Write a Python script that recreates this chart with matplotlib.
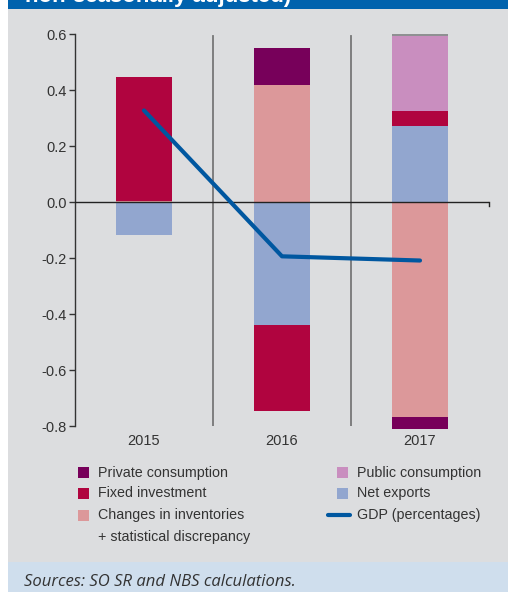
import matplotlib
matplotlib.use("Agg")
import matplotlib.pyplot as plt
from matplotlib.patches import Rectangle
from matplotlib.lines import Line2D
import numpy as np

years = ["2015", "2016", "2017"]
private_consumption = [0.0, 0.132, -0.045]
public_consumption = [0.0, 0.0, 0.268]
fixed_investment = [0.442, -0.310, 0.054]
inventories = [0.005, 0.419, -0.767]
net_exports = [-0.119, -0.438, 0.272]
other = [0.0, 0.0, 0.006]
gdp = [0.327, -0.194, -0.209]

yticks = [-0.8, -0.6, -0.4, -0.2, 0.0, 0.2, 0.4, 0.6]

c_priv = "#77005a"
c_fix = "#b0043f"
c_inv = "#dc989a"
c_pub = "#c98ebf"
c_net = "#92a6cf"
c_oth = "#8f9092"
c_gdp = "#0057a0"
bg = "#dcdddf"

font = "Liberation Sans"
plt.rcParams['font.family'] = [font, 'DejaVu Sans']

W, H = 508, 592
fig = plt.figure(figsize=(W / 100, H / 100), dpi=100)
fig.patch.set_facecolor("white")

def fx(px):
    return px / W

def fy(py):
    return 1 - py / H

# background panel
fig.patches.append(Rectangle((fx(8), 0), 1 - fx(8), 1, transform=fig.transFigure,
                             facecolor=bg, edgecolor="none", zorder=-5))
# top blue band
band = Rectangle((fx(8), fy(9)), 1 - fx(8), 9 / H, transform=fig.transFigure,
                 facecolor="#0062ad", edgecolor="none", zorder=-4)
fig.patches.append(band)
t = fig.text(fx(25), fy(2), "non-seasonally adjusted)", color="white", fontsize=16,
             fontweight="bold", ha="left", va="baseline", zorder=-3)
t.set_clip_path(band)
# bottom sources band
fig.patches.append(Rectangle((fx(8), 0), 1 - fx(8), 30 / H, transform=fig.transFigure,
                             facecolor="#cfdeed", edgecolor="none", zorder=-4))
fig.text(fx(24), fy(586), "Sources: SO SR and NBS calculations.", fontsize=12,
         style="italic", color="#333333", ha="left", va="baseline", family="Open Sans")

ax = fig.add_axes([fx(75), fy(426), fx(489) - fx(75), fy(34) - fy(426)])
ax.set_zorder(5)
ax.set_facecolor("none")
ax.set_xlim(-0.5, 2.5)
ax.set_ylim(-0.8, 0.6)

x = np.arange(len(years))
bw = 0.405

series = [
    (net_exports, c_net),
    (inventories, c_inv),
    (fixed_investment, c_fix),
    (public_consumption, c_pub),
    (private_consumption, c_priv),
    (other, c_oth),
]
pos = np.zeros(len(years))
neg = np.zeros(len(years))
for vals, col in series:
    vals = np.array(vals)
    bottoms = np.where(vals >= 0, pos, neg)
    ax.bar(x, vals, bw, bottom=bottoms, color=col, edgecolor="none", zorder=2, clip_on=False)
    pos = pos + np.where(vals >= 0, vals, 0)
    neg = neg + np.where(vals < 0, vals, 0)

ax.plot(x, gdp, color=c_gdp, lw=3, zorder=4, solid_capstyle="round")

# separators
for s in [0.5, 1.5]:
    ax.axvline(s, ymin=0, ymax=(0.593 + 0.8) / 1.4, color="#777777", lw=1.3, zorder=1)

# zero line
ax.axhline(0, color="#222222", lw=1, zorder=3)
ax.plot([2.5, 2.5], [0, -0.015], color="#222222", lw=1, clip_on=False)

for sp in ["top", "right", "bottom"]:
    ax.spines[sp].set_visible(False)
ax.spines["left"].set_color("#333333")
ax.spines["left"].set_linewidth(1)

ax.set_yticks(yticks)
ax.set_yticklabels([f"{v:.1f}" for v in yticks])
ax.tick_params(axis="y", direction="out", length=4, width=1, color="#333333",
               labelsize=10.5, labelcolor="#333333", pad=2)
ax.set_xticks(x)
ax.set_xticklabels(years)
ax.tick_params(axis="x", length=0, labelsize=10.5, labelcolor="#333333", pad=6)

# legend
legend_items = [
    (78, 472.7, "patch", c_priv, "Private consumption"),
    (78, 493.3, "patch", c_fix, "Fixed investment"),
    (78, 515.0, "patch", c_inv, "Changes in inventories"),
    (337, 472.7, "patch", c_pub, "Public consumption"),
    (337, 493.3, "patch", c_net, "Net exports"),
    (328, 515.0, "line", c_gdp, "GDP (percentages)"),
]
for px, py, kind, col, label in legend_items:
    if kind == "patch":
        fig.patches.append(Rectangle((fx(px), fy(py + 5.5)), 11 / W, 11 / H,
                                     transform=fig.transFigure, facecolor=col,
                                     edgecolor="none", zorder=3))
        tx = px + 20
    else:
        fig.lines.append(Line2D([fx(px), fx(px + 22)], [fy(py), fy(py)],
                                transform=fig.transFigure, color=col, lw=3,
                                solid_capstyle="round"))
        tx = px + 29
    fig.text(fx(tx), fy(py), label, fontsize=10.3, color="#333333", ha="left", va="center")
fig.text(fx(98), fy(536.7), "+ statistical discrepancy", fontsize=10.3, color="#333333",
         ha="left", va="center")

fig.savefig("out.png", dpi=100, facecolor=fig.get_facecolor())
